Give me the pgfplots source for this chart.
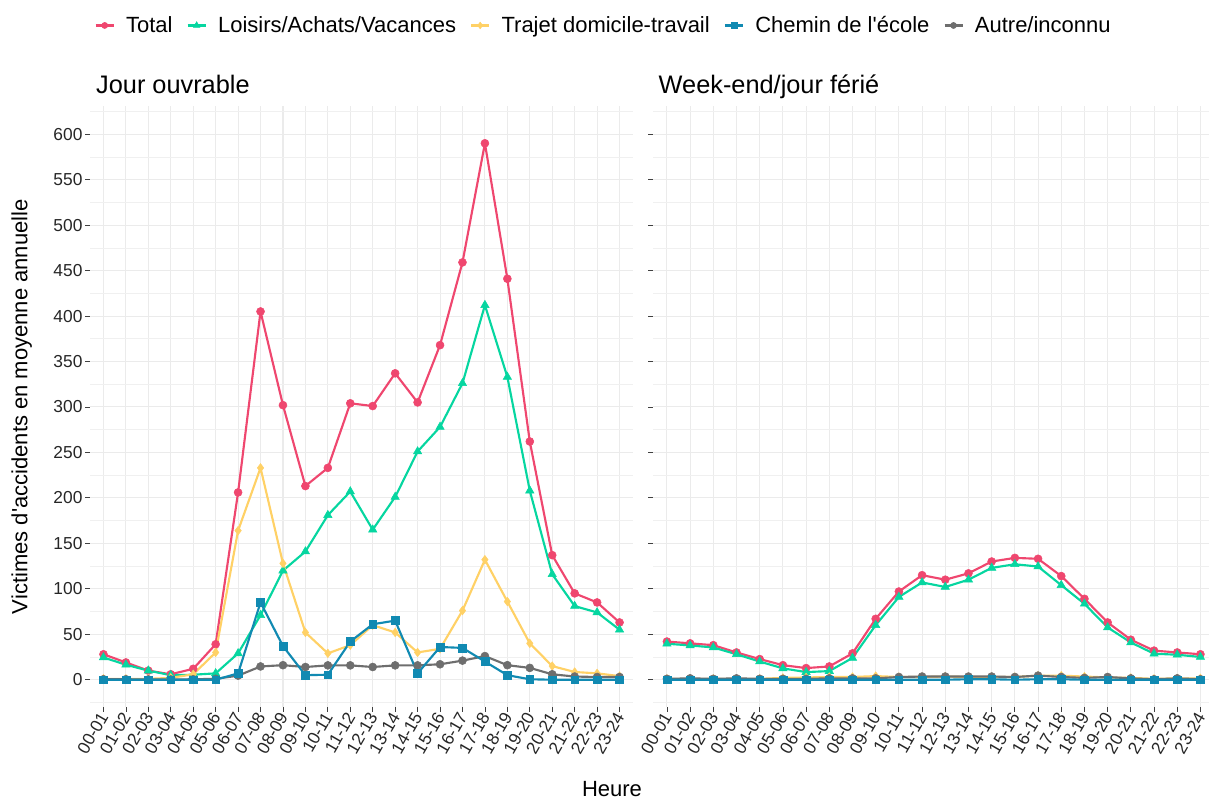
\documentclass[border=0pt]{standalone}
\usepackage{fontspec}
\setmainfont{Liberation Sans}[Ligatures=TeXOff]
\usepackage{pgfplots}
\usepackage{pgfplotstable}
\pgfplotsset{compat=1.18}
\definecolor{cTot}{HTML}{EF476F}
\definecolor{cLoi}{HTML}{06D6A0}
\definecolor{cTra}{HTML}{FFD166}
\definecolor{cChe}{HTML}{118AB2}
\definecolor{cAut}{HTML}{6E6E6E}

\pgfplotstableread{
x tot loi tra che aut
0 28 24.5 1 0 0.5
1 19 16.5 1 0 0.5
2 10 10 1 0 0.3
3 6 5 2 0 0.3
4 12 5.5 6 0 0.5
5 39 7 30 0 1
6 206 29 164 7 4.5
7 405 71 233 85 14.6
8 302 120 128 37 16
9 213 141 52 5 14
10 233 181 29 5.5 15.8
11 304 207 38 42 15.8
12 301 165 60 61 14
13 337 201 52 65 15.8
14 305 251 30 7 15.8
15 368 278 34 36 17
16 459 326 76 35 21
17 590 412 132 20 26
18 441 333 86 5 16
19 262 208 40 0.5 13
20 137 116 15 0 6
21 95 81 8.5 0 3.5
22 85 74 7 0 3
23 63 55 4 0 3
}\ouv

\pgfplotstableread{
x tot loi tra che aut
0 42 39.6 1 0 1
1 40 37.7 1 0 1.5
2 38 35.5 1 0 1
3 30 28 1 0 1.5
4 22.7 20 1 0 1
5 16 12.5 2 0 1
6 12.8 8.4 2.5 0 1
7 14.6 9.5 3 0 1.5
8 29 24 3 0 1.5
9 67 60 4 0 1.5
10 97 91 3 0 3
11 115 107 3 0 3.5
12 110 102 3.5 0 3.5
13 117 110 3 0.5 3.5
14 130 123 3 0.5 3.5
15 134 127 3 0 3
16 133 124.5 4.5 0.5 4.5
17 114 104 4.5 0.5 3
18 89 83.5 3.5 0 2
19 63 57.5 2.5 0 3
20 44 41 2 0 1.5
21 32 28.6 1 0 0.5
22 30 27.5 1.5 0 1.5
23 28 25 1.5 0 0.5
}\we

\newcommand\panel[1]{%
\addplot[forget plot, cTot, line width=1.6pt, line join=round] table[x=x,y=tot]{#1};
\addplot[forget plot, cLoi, line width=1.6pt, line join=round] table[x=x,y=loi]{#1};
\addplot[forget plot, cTra, line width=1.6pt, line join=round] table[x=x,y=tra]{#1};
\addplot[forget plot, cAut, line width=1.6pt, line join=round] table[x=x,y=aut]{#1};
\addplot[forget plot, cChe, line width=1.6pt, line join=round] table[x=x,y=che]{#1};
\addplot[forget plot, only marks, cTot, mark=*, mark size=3pt] table[x=x,y=tot]{#1};
\addplot[forget plot, only marks, cLoi, mark=triangle*, mark size=3.6pt] table[x=x,y=loi]{#1};
\addplot[forget plot, only marks, cTra, mark=diamond*, mark size=3.2pt] table[x=x,y=tra]{#1};
\addplot[forget plot, only marks, cAut, mark=*, mark size=3pt] table[x=x,y=aut]{#1};
\addplot[forget plot, only marks, cChe, mark=square*, mark size=2.9pt] table[x=x,y=che]{#1};
}

\pgfplotsset{
  facet/.style={
    scale only axis,
    height=450.75pt,
    ymin=-30, ymax=631,
    ytick={0,50,...,600},
    minor ytick={-25,25,...,625},
    xtick={0,...,23},
    xticklabels={00-01,01-02,02-03,03-04,04-05,05-06,06-07,07-08,08-09,09-10,10-11,11-12,12-13,13-14,14-15,15-16,16-17,17-18,18-19,19-20,20-21,21-22,22-23,23-24},
    grid=both,
    major grid style={line width=0.8pt, color=black!8},
    minor grid style={line width=0.45pt, color=black!6},
    axis line style={draw=none},
    tickpos=left,
    tick align=outside,
    major tick length=3.5pt,
    minor tick length=0pt,
    tick style={black!75, line width=0.6pt},
    /pgf/number format/assume math mode=true,
    ticklabel style={font=\fontsize{13}{15}\selectfont, text=black!85},
    xticklabel style={rotate=60, anchor=east, inner sep=1pt, yshift=-1pt},
    yticklabel style={inner sep=2pt},
    legend image code/.code={%
      \draw[line width=1.6pt] [#1] (0pt,0pt) -- (13.5pt,0pt);
      \draw[#1, only marks] plot coordinates {(6.75pt,0pt)};
    },
  }
}

\begin{document}
\begin{tikzpicture}
\path[use as bounding box] (0,0) rectangle (906.75pt,600pt);
\begin{axis}[facet,
  at={(67.5pt,69.75pt)}, anchor=south west,
  width=407.25pt, xmin=-0.6, xmax=23.6,
  legend style={at={(0.9466,1.134)}, anchor=center, draw=none, fill=none,
    legend columns=-1, font=\fontsize{16.5}{19}\selectfont,
    /tikz/every even column/.append style={column sep=8.5pt},
    /tikz/every odd column/.append style={column sep=6.5pt}},
  ]
\addlegendimage{cTot, mark=*, mark size=2.3pt}
\addlegendentry{Total}
\addlegendimage{cLoi, mark=triangle*, mark size=2.8pt}
\addlegendentry{Loisirs/Achats/Vacances}
\addlegendimage{cTra, mark=diamond*, mark size=2.5pt}
\addlegendentry{Trajet domicile-travail}
\addlegendimage{cChe, mark=square*, mark size=2.2pt}
\addlegendentry{Chemin de l'école}
\addlegendimage{cAut, mark=*, mark size=2.3pt}
\addlegendentry{Autre/inconnu}
\panel{\ouv}
\end{axis}
\begin{axis}[facet,
  at={(489.75pt,69.75pt)}, anchor=south west,
  width=417pt, xmin=-0.6, xmax=23.37,
  yticklabels={},
  ]
\panel{\we}
\end{axis}
\node[anchor=base west, font=\fontsize{19}{22}\selectfont] at (68.6pt,529.5pt) {Jour ouvrable};
\node[anchor=base west, font=\fontsize{19}{22}\selectfont] at (490.5pt,529.5pt) {Week-end/jour férié};
\node[anchor=base, font=\fontsize{16.5}{19}\selectfont] at (459pt,2.5pt) {Heure};
\node[anchor=base, rotate=90, font=\fontsize{16.5}{19}\selectfont] at (20.5pt,295pt) {Victimes d'accidents en moyenne annuelle};
\end{tikzpicture}
\end{document}
